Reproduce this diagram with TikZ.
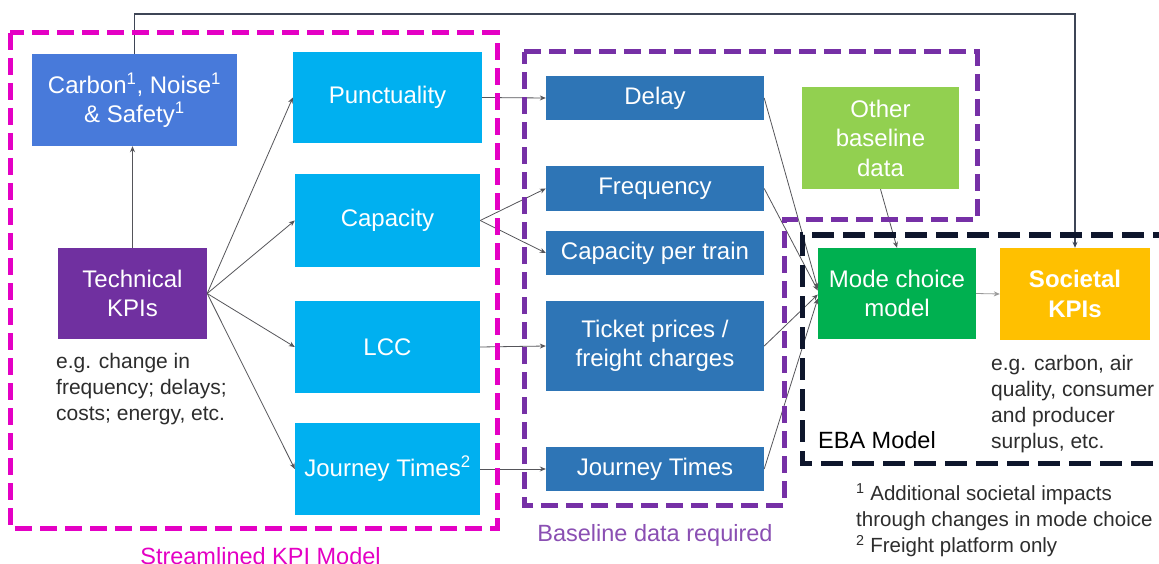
\documentclass[tikz,border=0pt]{standalone}
\usepackage{fontspec}
\setmainfont{Liberation Sans}
\usetikzlibrary{arrows.meta}

\definecolor{carbonblue}{RGB}{72,122,218}
\definecolor{kpicyan}{RGB}{0,176,240}
\definecolor{techpurple}{RGB}{112,48,160}
\definecolor{basedark}{RGB}{46,117,182}
\definecolor{othergreen}{RGB}{146,208,80}
\definecolor{modegreen}{RGB}{0,176,80}
\definecolor{socgold}{RGB}{255,192,0}
\definecolor{streammag}{RGB}{228,0,196}
\definecolor{basepurple}{RGB}{118,48,166}
\definecolor{ebanavy}{RGB}{14,22,44}
\definecolor{linkgray}{RGB}{85,85,90}
\definecolor{notegray}{RGB}{45,45,45}

\begin{document}
\begin{tikzpicture}[x=1pt,y=-1pt,
  box/.style={rectangle, inner sep=2pt, text=white, align=center,
    font=\fontsize{24}{29.5}\selectfont},
  link/.style={draw=linkgray, line width=0.8pt, -{Stealth[length=6pt,width=5pt]}},
  region/.style={line width=5pt, dash pattern=on 17pt off 8pt},
  note/.style={inner sep=0pt, align=left, text=notegray,
    font=\fontsize{21}{26}\selectfont},
  caption/.style={inner sep=0pt, font=\fontsize{23.5}{28}\selectfont}
]
\fill[white] (0,0) rectangle (1159,564);
\useasboundingbox (0,0) rectangle (1159,564);

% Streamlined KPI model
\node[box, fill=carbonblue, minimum width=205pt, minimum height=92pt] (carbon) at (134.5,100)
  {Carbon\textsuperscript{1}, Noise\textsuperscript{1}\\ \& Safety\textsuperscript{1}};
\node[box, fill=techpurple, minimum width=149pt, minimum height=91pt] (tech) at (132.5,293.5)
  {Technical\\KPIs};
\node[box, fill=kpicyan, minimum width=189pt, minimum height=91pt] (punct) at (387.5,97.5) {Punctuality};
\node[box, fill=kpicyan, minimum width=185pt, minimum height=93pt] (capac) at (387.5,220.5) {Capacity};
\node[box, fill=kpicyan, minimum width=185pt, minimum height=92pt] (lcc) at (387.5,347) {LCC};
\node[box, fill=kpicyan, minimum width=185pt, minimum height=92pt] (jtkpi) at (387.5,469)
  {Journey Times\textsuperscript{2}};
\node[note, anchor=north west] (technote) at (56,353)
  {e.g. change in\\frequency; delays;\\costs; energy, etc.};

% Baseline data
\node[box, fill=basedark, minimum width=218pt, minimum height=44pt] (delay) at (655,98) {Delay};
\node[box, fill=basedark, minimum width=218pt, minimum height=45pt] (freq) at (655,188.5) {Frequency};
\node[box, fill=basedark, minimum width=218pt, minimum height=44pt] (cpt) at (655,253) {Capacity per train};
\node[box, fill=basedark, minimum width=218pt, minimum height=90pt] (ticket) at (655,346)
  {Ticket prices /\\freight charges};
\node[box, fill=basedark, minimum width=218pt, minimum height=44pt] (jtbase) at (655,469) {Journey Times};
\node[box, fill=othergreen, minimum width=157pt, minimum height=102pt] (other) at (880.5,138)
  {Other\\baseline\\data};

% EBA model
\node[box, fill=modegreen, minimum width=158pt, minimum height=91pt] (mode) at (897,293.5)
  {Mode choice\\model};
\node[box, fill=socgold, minimum width=150pt, minimum height=92pt, font=\fontsize{24}{29.5}\selectfont\bfseries] (soc) at (1075,294)
  {Societal\\KPIs};
\node[note, anchor=north west] (socnote) at (991,355)
  {e.g. carbon, air\\quality, consumer\\and producer\\surplus, etc.};
\node[caption, anchor=base west] (ebalabel) at (818,448) {EBA Model};
\node[note, anchor=north west, font=\fontsize{20.5}{26}\selectfont] (footnotes) at (856,483)
  {\textsuperscript{1} Additional societal impacts\\through changes in mode choice\\\textsuperscript{2} Freight platform only};

% Connectors
\coordinate (topline) at (134,14);
\draw[link, draw=ebanavy!80, line width=1.1pt] (carbon.north) -- (carbon.north |- topline) -| (soc.north);
\draw[link] (tech.north) -- (tech.north |- carbon.south);
\draw[link] (tech.east) -- (punct.west);
\draw[link] (tech.east) -- (capac.west);
\draw[link] (tech.east) -- (lcc.west);
\draw[link] (tech.east) -- (jtkpi.west);
\draw[link] (punct.east) -- (delay.west);
\draw[link] (capac.east) -- (freq.west);
\draw[link] (capac.east) -- (cpt.west);
\draw[link] (lcc.east) -- (ticket.west);
\draw[link] (jtkpi.east) -- (jtbase.west);
\draw[link] (delay.east) -- ([yshift=5pt]mode.west);
\draw[link] (freq.east) -- ([yshift=3pt]mode.west);
\draw[link] (ticket.east) -- ([yshift=-1pt]mode.west);
\draw[link] (jtbase.east) -- ([yshift=-5pt]mode.west);
\draw[link] (other.south) -- (mode.north);
\draw[link, draw=black!40] (mode.east) -- (soc.west);

% Dashed regions
\draw[region, draw=streammag] (10,33) rectangle (497,528);
\draw[region, draw=basepurple] (524,52) -- (977,52) -- (977,220) -- (784,220) -- (784,505) -- (524,505) -- cycle;
\draw[region, draw=ebanavy, dash pattern=on 22pt off 9pt] (1175,235) -- (802,235) -- (802,463) -- (1175,463);

% Region captions
\node[caption, text=streammag, anchor=base] (streamlabel) at (260.5,564) {Streamlined KPI Model};
\node[caption, text=basepurple!85, anchor=base] (baselabel) at (655,541) {Baseline data required};
\end{tikzpicture}
\end{document}
